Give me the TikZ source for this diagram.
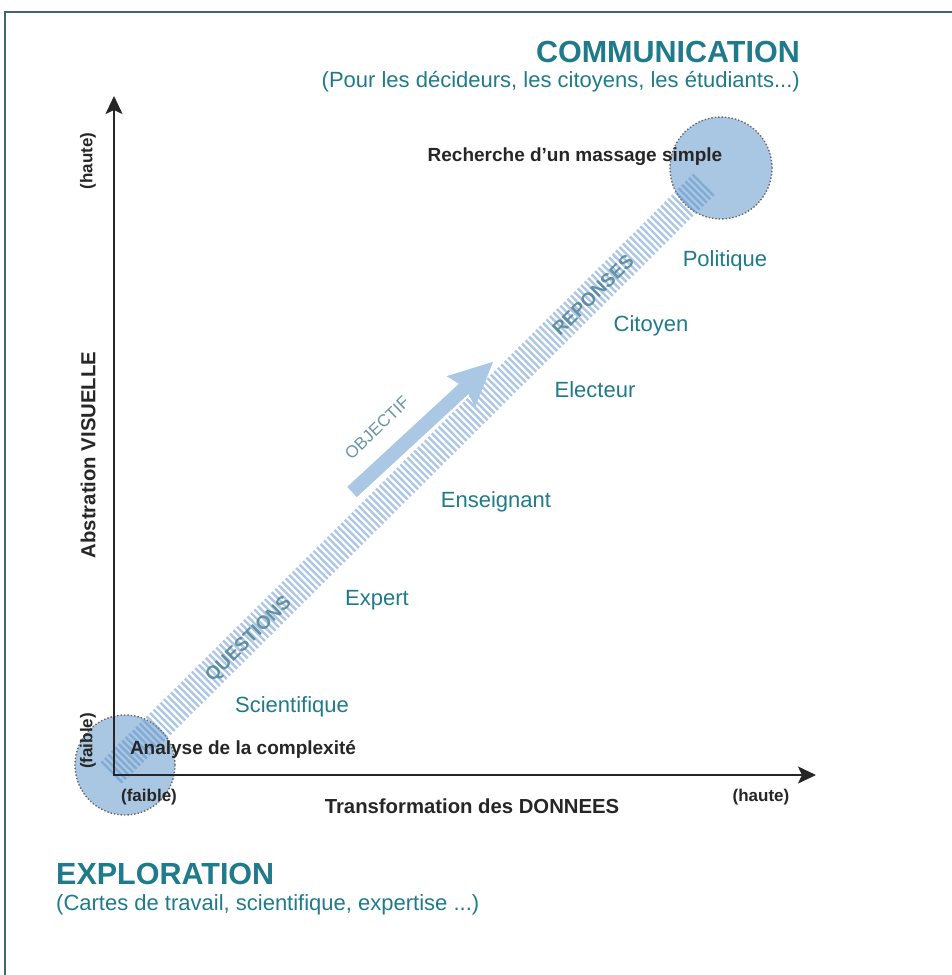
\documentclass[tikz,border=0pt]{standalone}
\usepackage{fontspec}
\setmainfont{Liberation Sans}
\usetikzlibrary{arrows.meta}
\definecolor{teal1}{HTML}{1F7A8A}
\definecolor{framec}{HTML}{3D6670}
\definecolor{circfill}{HTML}{A9C6E3}
\definecolor{stripec}{HTML}{5B8FC9}
\definecolor{arrowc}{HTML}{AAC7E3}
\definecolor{bandtxt}{HTML}{4F8294}
\tikzset{
  teallabel/.style={text=teal1, font=\fontsize{22}{24}\selectfont, inner sep=0pt},
  bigtitle/.style={text=teal1, font=\fontsize{30.5}{32}\selectfont\bfseries, inner sep=0pt},
  subtitle/.style={text=teal1, font=\fontsize{22}{24}\selectfont, inner sep=0pt},
  blacklabel/.style={text=black!85, font=\fontsize{19}{21}\selectfont\bfseries, inner sep=0pt},
  axislabel/.style={text=black!85, font=\fontsize{20.3}{22}\selectfont\bfseries, inner sep=0pt},
  smalllabel/.style={text=black!85, font=\fontsize{17}{19}\selectfont\bfseries, inner sep=0pt},
  axisline/.style={draw=black!85, line width=1.8pt, -{Stealth[length=18pt,width=17pt,inset=4pt]}},
  bubble/.style={circle, fill=circfill, draw=black!60, dotted, line width=1.4pt, minimum size=100pt, inner sep=0pt},
  stripe/.style={draw=stripec, draw opacity=0.5, line width=2.4pt},
  bandword/.style={text=bandtxt, text opacity=0.85, font=\fontsize{19}{21}\selectfont\bfseries, inner sep=0pt},
  objword/.style={text=bandtxt!85, font=\fontsize{17}{19}\selectfont, inner sep=0pt},
}
\begin{document}
\begin{tikzpicture}[x=1pt,y=-1pt]
\useasboundingbox (0,0) rectangle (951,975);
% frame
\draw[framec, line width=1.6pt] (955,12) -- (5,12) -- (5,980);

% bubbles
\node[bubble] (lo) at (125,765) {};
\node[bubble, minimum size=102pt] (hi) at (721,168) {};

% striped band
\coordinate (bs) at (112,772);
\coordinate (be) at (706,182);
\begin{scope}[shift={(bs)}, rotate=44.8]
  \foreach \i in {0,4.9,...,836} {
    \draw[stripe] (\i,-15) -- (\i,15);
  }
\end{scope}

% band words
\node[bandword, rotate=44.8] (q) at (249,640) {QUESTIONS};
\node[bandword, rotate=44.8] (r) at (593,295) {REPONSES};

% objective arrow
\begin{scope}[shift={(352,492)}, rotate=42.7]
  \fill[arrowc] (0,-7) -- (152,-7) -- (148,-21) -- (192,0) -- (148,21) -- (152,7) -- (0,7) -- cycle;
\end{scope}
\node[objword, rotate=44] (obj) at (377,428) {OBJECTIF};

% axes
\coordinate (O) at (114,775);
\coordinate (Ytop) at (114,96);
\coordinate (Xend) at (816,775);
\draw[axisline] (O) -- (Ytop);
\draw[axisline] (113,775) -- (Xend);

% axis labels
\node[axislabel, rotate=90] (ylab) at (88,455) {Abstration VISUELLE};
\node[smalllabel, rotate=90] (yhi) at (88,161) {(haute)};
\node[smalllabel, rotate=90] (ylo) at (88,741) {(faible)};
\node[axislabel] (xlab) at (472,806) {Transformation des DONNEES};
\node[smalllabel] (xlo) at (149,797) {(faible)};
\node[smalllabel] (xhi) at (761,797) {(haute)};

% endpoints text
\node[blacklabel] (ana) at (243,749) {Analyse de la complexit\'e};
\node[blacklabel] (rech) at (575,157) {Recherche d'un massage simple};

% teal labels
\node[teallabel] (pol) at (725,261) {Politique};
\node[teallabel] (cit) at (651,326) {Citoyen};
\node[teallabel] (ele) at (595,390) {Electeur};
\node[teallabel] (ens) at (496,502) {Enseignant};
\node[teallabel] (exp) at (377,600) {Expert};
\node[teallabel] (sci) at (292,707) {Scientifique};

% titles
\node[bigtitle, anchor=east] (com) at (800,52) {COMMUNICATION};
\node[subtitle, anchor=east] (comsub) at (800,82) {(Pour les d\'ecideurs, les citoyens, les \'etudiants...)};
\node[bigtitle, anchor=west] (expl) at (56,874) {EXPLORATION};
\node[subtitle, anchor=west] (explsub) at (56,905) {(Cartes de travail, scientifique, expertise ...)};
\end{tikzpicture}
\end{document}
